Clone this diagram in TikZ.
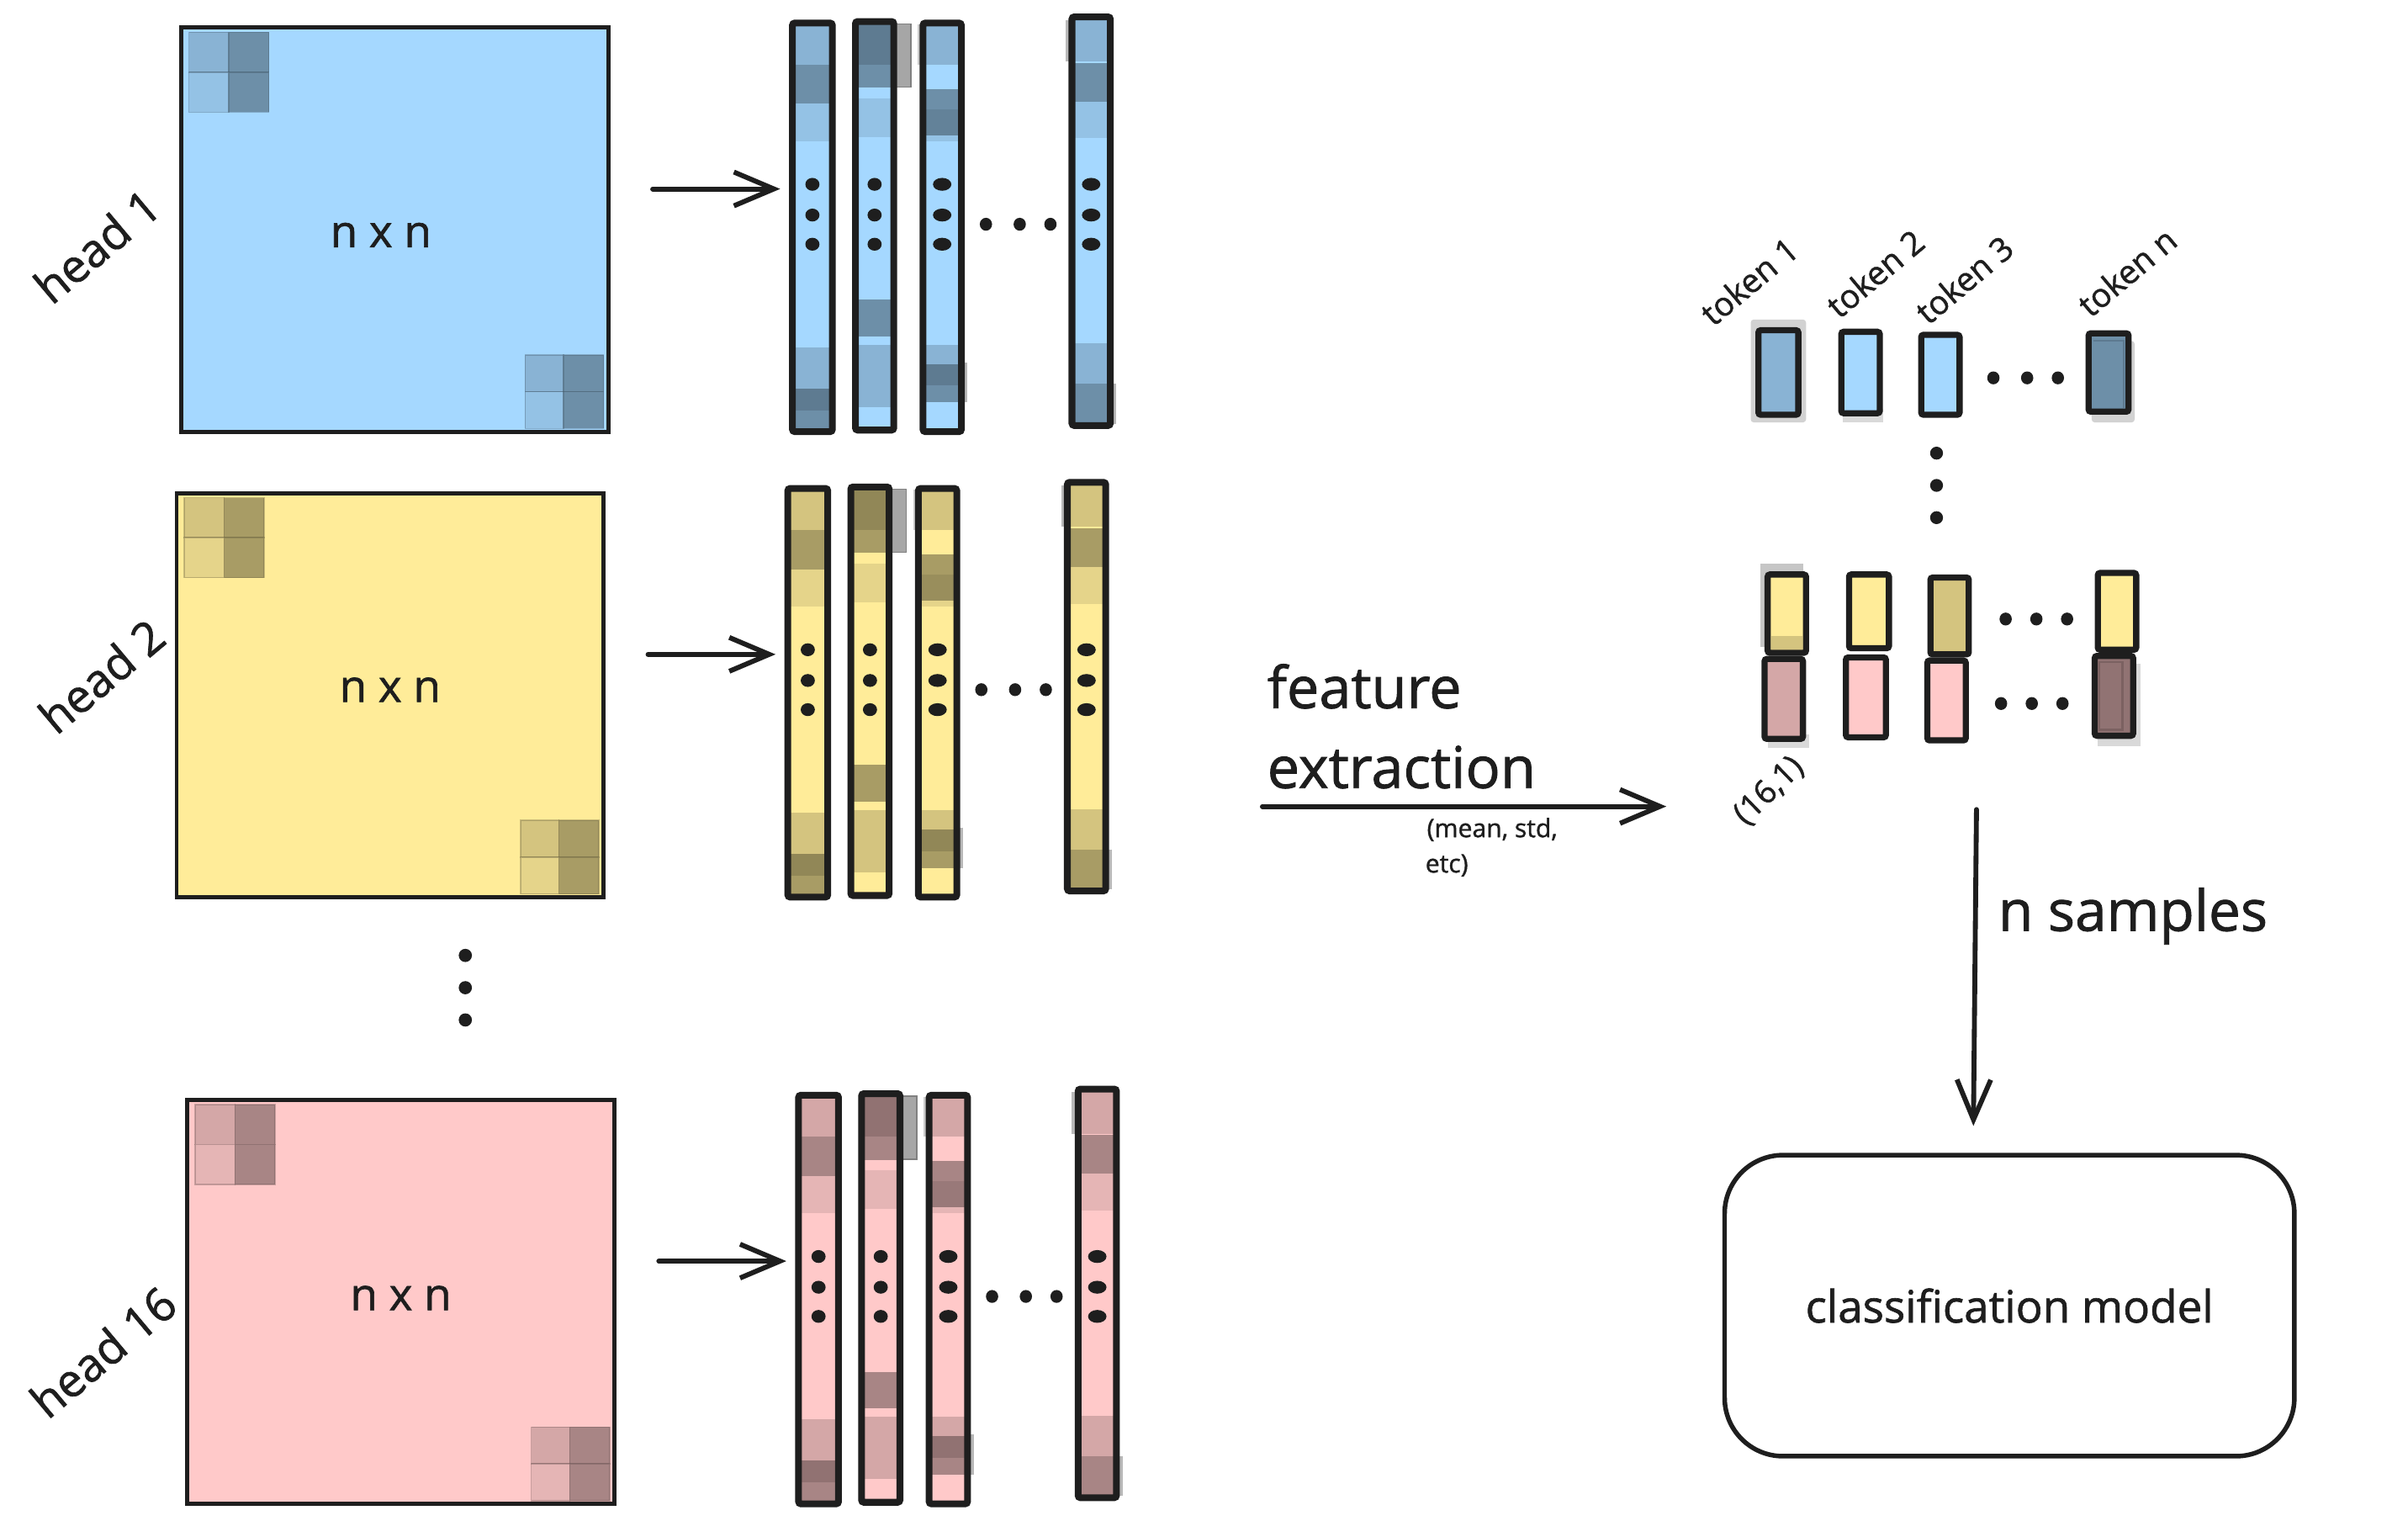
\documentclass[tikz,border=0pt]{standalone}
\usepackage{fontspec}
\setmainfont{Open Sans}[FakeBold=1.2]
\usetikzlibrary{arrows.meta}
\definecolor{ink}{HTML}{1E1E1E}
\definecolor{hblue}{HTML}{A5D8FF}
\definecolor{hyel}{HTML}{FFEC99}
\definecolor{hpink}{HTML}{FFC9C9}
\tikzset{
  sqbox/.style={draw=ink, line width=2.7pt, inner sep=0pt, outer sep=0pt},
  colbox/.style={draw=ink, line width=4.4pt, rounded corners=1.5pt, inner sep=0pt, outer sep=0pt},
  tokbox/.style={draw=ink, line width=4pt, rounded corners=1.5pt, inner sep=0pt, outer sep=0pt},
  cellbox/.style={line width=0.8pt, draw opacity=0.35},
  arr/.style={draw=ink, line width=3.2pt, line cap=round, line join=round, -{Straight Barb[length=26pt,width=22pt]}},
  lbl/.style={text=ink, inner sep=0pt},
  shade/.style={fill=gray!45}
}
\newcommand{\dotat}[3]{\fill[ink] (#1,#2) ellipse [x radius=#3pt, y radius=4.2pt];}
\newcommand{\hseg}[5]{\fill[#5] (#1,#3) rectangle (#2,#4);}
\newcommand{\headgrp}[4]{%
\begin{scope}[shift={(#1,#2)}]
  \node[sqbox, fill=#3, minimum width=278pt, minimum height=263pt] (sq#4) at (257,149.5) {};
  % corner cells
  \filldraw[cellbox, fill=#3!83!black, draw=#3!40!black] (123,21) rectangle (149,47);
  \filldraw[cellbox, fill=#3!66!black, draw=#3!40!black] (149,21) rectangle (175,47);
  \filldraw[cellbox, fill=#3!90!black, draw=#3!40!black] (123,47) rectangle (149,73);
  \filldraw[cellbox, fill=#3!66!black, draw=#3!40!black] (149,47) rectangle (175,73);
  \filldraw[cellbox, fill=#3!83!black, draw=#3!40!black] (342,231) rectangle (367,255);
  \filldraw[cellbox, fill=#3!66!black, draw=#3!40!black] (367,231) rectangle (393,255);
  \filldraw[cellbox, fill=#3!90!black, draw=#3!40!black] (342,255) rectangle (367,279);
  \filldraw[cellbox, fill=#3!66!black, draw=#3!40!black] (367,255) rectangle (393,279);
  % shadows of columns
  \filldraw[fill=gray!70, draw=gray, line width=0.8pt] (582,15.5) rectangle (593,56.6);
  \fill[gray!40] (597.5,16) rectangle (601,42);
  \fill[gray!55] (626,236) rectangle (630,262);
  \fill[gray!55] (694,13) rectangle (698,40);
  \fill[gray!55] (723,250) rectangle (727,276);
  % column 1
  \hseg{516}{542}{15}{281}{#3}
  \hseg{516}{542}{15}{42}{#3!83!black}
  \hseg{516}{542}{42}{67.5}{#3!66!black}
  \hseg{516}{542}{67.5}{92}{#3!90!black}
  \hseg{516}{542}{226}{253}{#3!83!black}
  \hseg{516}{542}{253}{267}{#3!57!black}
  \hseg{516}{542}{267}{281}{#3!66!black}
  % column 2
  \hseg{557}{582}{14}{280}{#3}
  \hseg{557}{582}{14}{42}{#3!57!black}
  \hseg{557}{582}{42}{57}{#3!66!black}
  \hseg{557}{582}{64}{89}{#3!90!black}
  \hseg{557}{582}{195}{219}{#3!66!black}
  \hseg{557}{582}{224.5}{265}{#3!83!black}
  % column 3
  \hseg{601}{626}{15}{281}{#3}
  \hseg{601}{626}{15}{42}{#3!83!black}
  \hseg{601}{626}{58}{71}{#3!66!black}
  \hseg{601}{626}{71}{88}{#3!60!black}
  \hseg{601}{626}{88}{92}{#3!90!black}
  \hseg{601}{626}{224.5}{237}{#3!83!black}
  \hseg{601}{626}{237}{251}{#3!57!black}
  \hseg{601}{626}{251}{262}{#3!66!black}
  % column 4
  \hseg{698}{723}{11}{277}{#3}
  \hseg{698}{723}{11}{40}{#3!83!black}
  \hseg{698}{723}{41}{66}{#3!66!black}
  \hseg{698}{723}{66}{90}{#3!90!black}
  \hseg{698}{723}{223.6}{250}{#3!83!black}
  \hseg{698}{723}{250}{277}{#3!66!black}
  % column borders
  \node[colbox, minimum width=26pt, minimum height=266pt] (c#4a) at (529,148) {};
  \node[colbox, minimum width=25pt, minimum height=266pt] (c#4b) at (569.5,147) {};
  \node[colbox, minimum width=25pt, minimum height=266pt] (c#4c) at (613.5,148) {};
  \node[colbox, minimum width=25pt, minimum height=266pt] (c#4d) at (710.5,144) {};
  % dots
  \dotat{529}{120}{4.6}\dotat{529}{140}{4.6}\dotat{529}{159}{4.6}
  \dotat{569.5}{120}{4.6}\dotat{569.5}{140}{4.6}\dotat{569.5}{159}{4.6}
  \dotat{613.5}{120}{6}\dotat{613.5}{140}{6}\dotat{613.5}{159}{6}
  \dotat{710.5}{120}{6}\dotat{710.5}{140}{6}\dotat{710.5}{159}{6}
  \dotat{642}{146}{4}\dotat{664}{146}{4}\dotat{684}{146}{4}
  % arrow
  \coordinate (a#4s) at (425,123);
  \coordinate (a#4e) at (508,123);
  \draw[arr] (a#4s) -- (a#4e);
\end{scope}}
\begin{document}
\begin{tikzpicture}[x=1pt,y=-1pt]
\fill[white] (0,0) rectangle (1568,990);
\useasboundingbox (0,0) rectangle (1568,990);

\headgrp{0}{0}{hblue}{1}
\headgrp{-3}{303}{hyel}{2}
\headgrp{4}{698}{hpink}{3}

% matrix labels
\node[lbl, font=\fontsize{29}{34}\selectfont] (nn1) at (248,153) {n x n};
\node[lbl, font=\fontsize{29}{34}\selectfont] (nn2) at (254,449) {n x n};
\node[lbl, font=\fontsize{29}{34}\selectfont] (nn3) at (261,845) {n x n};
\node[lbl, font=\fontsize{30}{34}\selectfont, rotate=40] (h1) at (63,160) {head 1};
\node[lbl, font=\fontsize{30}{34}\selectfont, rotate=40] (h2) at (66,440) {head 2};
\node[lbl, font=\fontsize{30}{34}\selectfont, rotate=40] (h3) at (67,880) {head 16};

% vertical dots between heads
\fill[ink] (303,622) circle [radius=4.3pt];
\fill[ink] (303,643) circle [radius=4.3pt];
\fill[ink] (303,664) circle [radius=4.3pt];

% feature extraction
\node[lbl, font=\fontsize{37.5}{40}\selectfont, anchor=base west] (fe1t) at (825,461) {feature};
\node[lbl, font=\fontsize{37.5}{40}\selectfont, anchor=base west] (fe2t) at (825,513) {extraction};
\node[lbl, font=\fontsize{16.5}{20}\selectfont, anchor=base west] (fe3t) at (929,545) {(mean, std,};
\node[lbl, font=\fontsize{16.5}{20}\selectfont, anchor=base west] (fe4t) at (928,568) {etc)};
\coordinate (fes) at (822,525);
\coordinate (fee) at (1085,525);
\draw[arr] (fes) -- (fee);

% token row (blue)
\node[lbl, font=\fontsize{21.5}{24}\selectfont, rotate=40] (tl1) at (1139,183) {token 1};
\node[lbl, font=\fontsize{21.5}{24}\selectfont, rotate=40] (tl2) at (1221,178) {token 2};
\node[lbl, font=\fontsize{21.5}{24}\selectfont, rotate=40] (tl3) at (1279,182) {token 3};
\node[lbl, font=\fontsize{21.5}{24}\selectfont, rotate=40] (tln) at (1385,177) {token n};

\fill[gray!35, rounded corners=2pt] (1140,208) rectangle (1176,275);
\fill[gray!30] (1200,266) rectangle (1226,275);
\fill[gray!35, rounded corners=2pt] (1362,222) rectangle (1390,275);
\node[tokbox, fill=hblue!83!black, minimum width=26pt, minimum height=55pt] (tk1) at (1158,242.5) {};
\node[tokbox, fill=hblue, minimum width=25pt, minimum height=53pt] (tk2) at (1211.5,242.5) {};
\node[tokbox, fill=hblue, minimum width=25pt, minimum height=52pt] (tk3) at (1263.5,244) {};
\node[tokbox, fill=hblue!66!black, minimum width=26pt, minimum height=51pt] (tkn) at (1373,242.5) {};
\draw[hblue!50!black, line width=1.2pt, opacity=0.6] (1363,222) -- (1383,222) -- (1383,266);
\dotat{1298}{246}{4}\dotat{1320}{246}{4}\dotat{1340}{246}{4}
\fill[ink] (1261,295) circle [radius=4.2pt];
\fill[ink] (1261,316) circle [radius=4.2pt];
\fill[ink] (1261,337) circle [radius=4.2pt];

% yellow / pink row
\fill[gray!45] (1146,367) rectangle (1174,421);
\fill[gray!30] (1151,478) rectangle (1178,487);
\fill[gray!30] (1366,432) rectangle (1394,486);
\node[tokbox, fill=hyel, minimum width=25pt, minimum height=51pt] (y1) at (1163.5,399.5) {};
\fill[hyel!83!black] (1153.2,414) rectangle (1173.8,422.8);
\node[tokbox, fill=hyel, minimum width=26pt, minimum height=48pt] (y2) at (1217,398) {};
\node[tokbox, fill=hyel!83!black, minimum width=25pt, minimum height=50pt] (y3) at (1269.5,401) {};
\node[tokbox, fill=hyel, minimum width=25pt, minimum height=50pt] (y4) at (1378.5,398) {};
\node[tokbox, fill=hpink!83!black, minimum width=25pt, minimum height=52pt] (p1) at (1161.5,455) {};
\node[tokbox, fill=hpink, minimum width=26pt, minimum height=52pt] (p2) at (1215,454) {};
\node[tokbox, fill=hpink, minimum width=25pt, minimum height=52pt] (p3) at (1267.5,456) {};
\node[tokbox, fill=hpink!57!black, minimum width=25pt, minimum height=52pt] (p4) at (1376.5,453) {};
\draw[hpink!40!black, line width=1.5pt, opacity=0.5] (1367,431) rectangle (1382,475);
\dotat{1306}{403}{4}\dotat{1326}{403}{4}\dotat{1346}{403}{4}
\dotat{1303}{458}{4}\dotat{1323}{458}{4}\dotat{1343}{458}{4}
\node[lbl, font=\fontsize{21}{24}\selectfont, rotate=44] (dim) at (1152,515) {(16,1)};

% n samples arrow and classifier
\node[draw=ink, line width=3pt, rounded corners=38pt, minimum width=371pt, minimum height=196pt,
      font=\fontsize{29}{32}\selectfont, text=ink] (clf) at (1308.5,850) {classification model};
\coordinate (nss) at (1287,527);
\coordinate (nse) at (1285,733);
\draw[arr] (nss) -- (nse);
\node[lbl, font=\fontsize{37}{40}\selectfont, anchor=base west] (ns) at (1301,606) {n samples};
\end{tikzpicture}
\end{document}
